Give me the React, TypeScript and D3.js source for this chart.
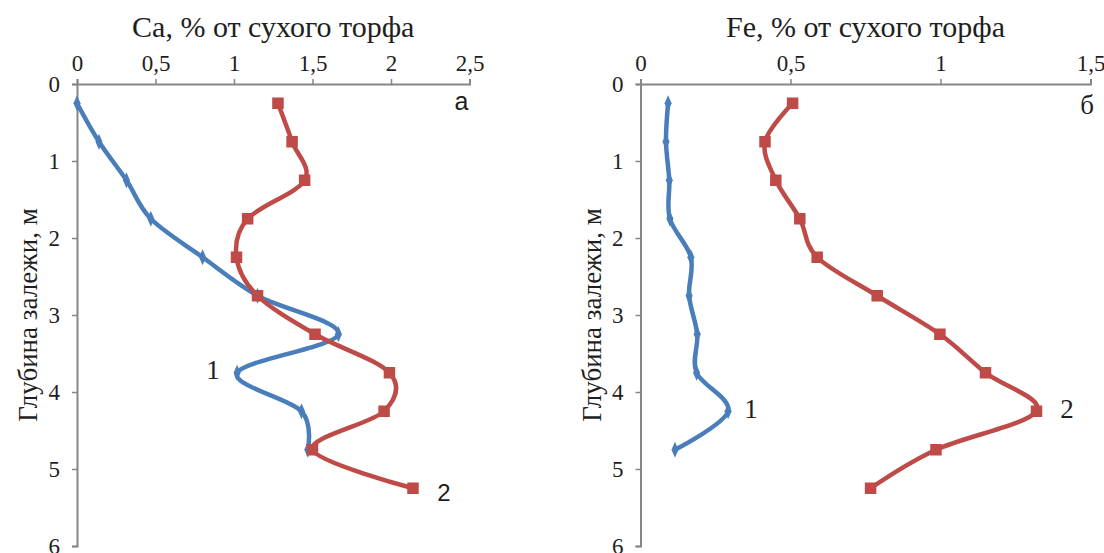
import React, { useEffect, useRef } from "react";
import * as d3 from "d3";

// глубина, м (середины интервалов)
const depths = [0.25, 0.75, 1.25, 1.75, 2.25, 2.75, 3.25, 3.75, 4.25, 4.75, 5.25];

// Ca, % от сухого торфа
const ca1 = [0.0, 0.14, 0.315, 0.47, 0.8, 1.15, 1.665, 1.02, 1.43, 1.47];
const ca2 = [1.28, 1.37, 1.45, 1.087, 1.016, 1.15, 1.516, 1.99, 1.956, 1.5, 2.14];

// Fe, % от сухого торфа
const fe1 = [0.092, 0.085, 0.096, 0.098, 0.168, 0.162, 0.189, 0.187, 0.292, 0.115];
const fe2 = [0.507, 0.415, 0.451, 0.531, 0.589, 0.789, 0.998, 1.15, 1.32, 0.985, 0.767];

const caTicks = [0, 0.5, 1, 1.5, 2, 2.5];
const feTicks = [0, 0.5, 1, 1.5];
const depthTicks = [0, 1, 2, 3, 4, 5, 6];

const BLUE = "#4a7ebb";
const RED = "#be4b48";
const AXIS = "#868686";
const INK = "#1e1e1e";
const SERIF = "'Liberation Serif', 'Times New Roman', serif";
const SANS = "'Liberation Sans', Arial, sans-serif";

const fmt = (v: number) => String(v).replace(".", ",");

type Panel = {
  left: number;
  right: number;
  xMax: number;
  ticks: number[];
  title: string;
  s1: number[];
  s2: number[];
  letter: string;
  letterFont: string;
  letterPos: [number, number];
  lab1: [number, number];
  lab2: [number, number];
  lab2Font: string;
  yTitleX: number;
};

const panels: Panel[] = [
  {
    left: 77, right: 469.5, xMax: 2.5, ticks: caTicks,
    title: "Ca, % от сухого торфа", s1: ca1, s2: ca2,
    letter: "а", letterFont: SANS, letterPos: [461.5, 110],
    lab1: [213, 379], lab2: [444, 501], lab2Font: SANS, yTitleX: 37,
  },
  {
    left: 640.5, right: 1090.5, xMax: 1.5, ticks: feTicks,
    title: "Fe, % от сухого торфа", s1: fe1, s2: fe2,
    letter: "б", letterFont: SERIF, letterPos: [1087, 114],
    lab1: [751, 418], lab2: [1067, 418], lab2Font: SERIF, yTitleX: 600.5,
  },
];

const App = () => {
  const ref = useRef<SVGSVGElement>(null);

  useEffect(() => {
    const svg = d3.select(ref.current);
    svg.selectAll("*").remove();

    const top = 84, bottom = 546;
    const y = d3.scaleLinear().domain([0, 6]).range([top, bottom]);

    panels.forEach((p) => {
      const x = d3.scaleLinear().domain([0, p.xMax]).range([p.left, p.right]);
      const g = svg.append("g");

      // верхняя ось
      const xa = g.append("g")
        .attr("transform", `translate(0, ${top})`)
        .call(d3.axisTop(x).tickValues(p.ticks).tickFormat((d) => fmt(+d)).tickSize(5).tickPadding(8));
      xa.select(".domain").attr("stroke", AXIS).attr("stroke-width", 2);
      xa.selectAll(".tick line").attr("stroke", AXIS).attr("stroke-width", 1.5);
      xa.selectAll("text").attr("fill", INK).style("font-family", SERIF).style("font-size", "23px");

      // левая ось
      const ya = g.append("g")
        .attr("transform", `translate(${p.left}, 0)`)
        .call(d3.axisLeft(y).tickValues(depthTicks).tickFormat((d) => String(d)).tickSize(5).tickPadding(12));
      ya.select(".domain").attr("stroke", AXIS).attr("stroke-width", 2);
      ya.selectAll(".tick line").attr("stroke", AXIS).attr("stroke-width", 1.5);
      ya.selectAll("text").attr("fill", INK).style("font-family", SERIF).style("font-size", "23px");

      g.append("text")
        .attr("x", (p.left + p.right) / 2)
        .attr("y", 37)
        .attr("text-anchor", "middle")
        .attr("fill", INK)
        .style("font-family", SERIF)
        .style("font-size", "30px")
        .text(p.title);

      g.append("text")
        .attr("transform", `translate(${p.yTitleX}, ${(top + bottom) / 2}) rotate(-90)`)
        .attr("text-anchor", "middle")
        .attr("fill", INK)
        .style("font-family", SERIF)
        .style("font-size", "27px")
        .text("Глубина залежи, м");

      const line = d3.line<[number, number]>()
        .x((d) => x(d[0]))
        .y((d) => y(d[1]))
        .curve(d3.curveCatmullRom.alpha(0));

      const pts1: [number, number][] = p.s1.map((v, i) => [v, depths[i]]);
      const pts2: [number, number][] = p.s2.map((v, i) => [v, depths[i]]);

      g.append("path").attr("d", line(pts1)).attr("fill", "none")
        .attr("stroke", BLUE).attr("stroke-width", 4.5).attr("stroke-linejoin", "round");
      g.selectAll(".m1").data(pts1).enter().append("path")
        .attr("transform", (d) => `translate(${x(d[0])}, ${y(d[1])}) scale(0.85, 1.1)`)
        .attr("d", d3.symbol(d3.symbolDiamond, 60)())
        .attr("fill", BLUE);

      g.append("path").attr("d", line(pts2)).attr("fill", "none")
        .attr("stroke", RED).attr("stroke-width", 4.5).attr("stroke-linejoin", "round");
      g.selectAll(".m2").data(pts2).enter().append("rect")
        .attr("x", (d) => x(d[0]) - 5.75)
        .attr("y", (d) => y(d[1]) - 5.75)
        .attr("width", 11.5)
        .attr("height", 11.5)
        .attr("fill", RED);

      g.append("text").attr("x", p.lab1[0]).attr("y", p.lab1[1])
        .attr("text-anchor", "middle").attr("fill", INK)
        .style("font-family", SERIF).style("font-size", "27px").text("1");
      g.append("text").attr("x", p.lab2[0]).attr("y", p.lab2[1])
        .attr("text-anchor", "middle").attr("fill", INK)
        .style("font-family", p.lab2Font).style("font-size", p.lab2Font === SANS ? "24px" : "27px").text("2");
      g.append("text").attr("x", p.letterPos[0]).attr("y", p.letterPos[1])
        .attr("text-anchor", "middle").attr("fill", INK)
        .style("font-family", p.letterFont).style("font-size", p.letterFont === SANS ? "25px" : "27px").text(p.letter);
    });
  }, []);

  return (
    <svg
      ref={ref}
      width={1104}
      height={553}
      style={{ position: "absolute", left: 0, top: 0, background: "#fff" }}
    />
  );
};

export default App;
